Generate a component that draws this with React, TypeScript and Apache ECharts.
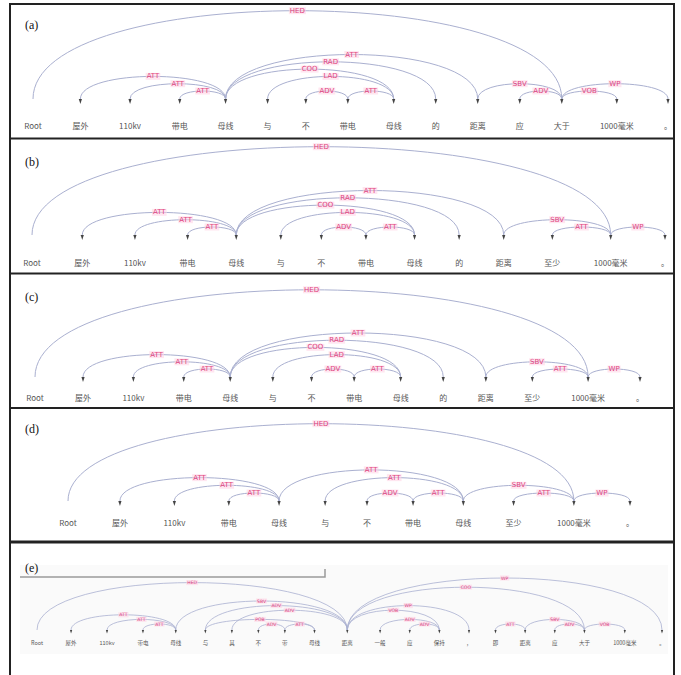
import React, { useEffect, useRef } from "react";
import * as echarts from "echarts";

// ---------- data ----------
const tokensA = ["Root", "屋外", "110kv", "带电", "母线", "与", "不", "带电", "母线", "的", "距离", "应", "大于", "1000毫米", "。"];
// [head, dependent, relation, level]
const arcsA: [number, number, string, number][] = [
  [0, 12, "HED", 12], [4, 1, "ATT", 3], [4, 2, "ATT", 2], [4, 3, "ATT", 1],
  [10, 4, "ATT", 6], [4, 9, "RAD", 5], [4, 8, "COO", 4], [8, 5, "LAD", 3],
  [7, 6, "ADV", 1], [8, 7, "ATT", 1], [12, 10, "SBV", 2], [12, 11, "ADV", 1],
  [12, 13, "VOB", 1], [12, 14, "WP", 2],
];

const tokensB = ["Root", "屋外", "110kv", "带电", "母线", "与", "不", "带电", "母线", "的", "距离", "至少", "1000毫米", "。"];
const arcsB: [number, number, string, number][] = [
  [0, 12, "HED", 12], [4, 1, "ATT", 3], [4, 2, "ATT", 2], [4, 3, "ATT", 1],
  [10, 4, "ATT", 6], [4, 9, "RAD", 5], [4, 8, "COO", 4], [8, 5, "LAD", 3],
  [7, 6, "ADV", 1], [8, 7, "ATT", 1], [12, 10, "SBV", 2], [12, 11, "ATT", 1],
  [12, 13, "WP", 1],
];

const tokensC = ["Root", "屋外", "110kv", "带电", "母线", "与", "不", "带电", "母线", "的", "距离", "至少", "1000毫米", "。"];
const arcsC: [number, number, string, number][] = [
  [0, 12, "HED", 12], [4, 1, "ATT", 3], [4, 2, "ATT", 2], [4, 3, "ATT", 1],
  [10, 4, "ATT", 6], [4, 9, "RAD", 5], [4, 8, "COO", 4], [8, 5, "LAD", 3],
  [7, 6, "ADV", 1], [8, 7, "ATT", 1], [12, 10, "SBV", 2], [12, 11, "ATT", 1],
  [12, 13, "WP", 1],
];

const tokensD = ["Root", "屋外", "110kv", "带电", "母线", "与", "不", "带电", "母线", "至少", "1000毫米", "。"];
const arcsD: [number, number, string, number][] = [
  [0, 10, "HED", 10], [4, 1, "ATT", 3], [4, 2, "ATT", 2], [4, 3, "ATT", 1],
  [8, 4, "ATT", 4], [8, 5, "ATT", 3], [7, 6, "ADV", 1], [8, 7, "ATT", 1],
  [10, 8, "SBV", 2], [10, 9, "ATT", 1], [10, 11, "WP", 1],
];

const tokensE = ["Root", "屋外", "110kv", "带电", "母线", "与", "其", "不", "带", "母线", "距离", "一般", "应", "保持", "，", "即", "距离", "应", "大于", "1000毫米", "。"];
const arcsE: [number, number, string, number][] = [
  [0, 10, "HED", 10], [4, 1, "ATT", 3], [4, 2, "ATT", 2], [4, 3, "ATT", 1],
  [10, 4, "SBV", 6], [10, 5, "ADV", 5], [10, 6, "ADV", 4], [5, 9, "POB", 2],
  [8, 7, "ADV", 1], [9, 8, "ATT", 1], [10, 14, "WP", 5], [10, 13, "VOB", 4],
  [13, 11, "ADV", 2], [13, 12, "ADV", 1], [16, 15, "ATT", 1], [18, 16, "SBV", 2],
  [18, 17, "ADV", 1], [18, 19, "VOB", 1], [10, 18, "COO", 9], [10, 20, "WP", 11],
];

const panelLetters = ["(a)", "(b)", "(c)", "(d)", "(e)"];

// ---------- layout ----------
const PANELS = [
  { tokens: tokensA, arcs: arcsA, left: 33, right: 668, top: 6, baseline: 99, textDy: 26, base: 8, unit: 7.3, gap: 4, font: 8, relFont: 7, arrow: 1 },
  { tokens: tokensB, arcs: arcsB, left: 32, right: 665, top: 141, baseline: 235, textDy: 27, base: 8, unit: 7.3, gap: 4, font: 8, relFont: 7, arrow: 1 },
  { tokens: tokensC, arcs: arcsC, left: 35, right: 640, top: 276, baseline: 377, textDy: 20, base: 8, unit: 7.2, gap: 4, font: 8, relFont: 7, arrow: 1 },
  { tokens: tokensD, arcs: arcsD, left: 68, right: 630, top: 411, baseline: 501, textDy: 21, base: 8, unit: 7.7, gap: 4, font: 8, relFont: 7, arrow: 1 },
  { tokens: tokensE, arcs: arcsE, left: 37, right: 662, top: 560, baseline: 630, textDy: 13, base: 6, unit: 4.6, gap: 3.2, font: 5.5, relFont: 4.6, arrow: 0.7 },
];
const letterY = [25, 162, 297, 429, 568];

const ARC_COLOR = "#aab0d0";
const REL_COLOR = "#e0457f";
const TOKEN_COLOR = "#555";

function charW(ch: string) {
  return /[\u2E80-\u9FFF\u3000-\u303F\uFF00-\uFFEF]/.test(ch) ? 1 : 0.6;
}
function textW(s: string) {
  let w = 0;
  for (const c of s) w += charW(c);
  return w;
}
function layoutPositions(tokens: string[], gap: number) {
  const pos = [0];
  for (let i = 1; i < tokens.length; i++) {
    pos.push(pos[i - 1] + gap + (textW(tokens[i - 1]) + textW(tokens[i])) / 2);
  }
  return pos;
}

function buildOption() {
  const grid: any[] = [];
  const xAxis: any[] = [];
  const yAxis: any[] = [];
  const series: any[] = [];

  PANELS.forEach((p, i) => {
    const pos = layoutPositions(p.tokens, p.gap);
    const h = p.baseline - p.top;
    const y0 = 1 - p.base / p.unit;
    grid.push({ left: p.left, top: p.top, width: p.right - p.left, height: h });
    xAxis.push({ type: "value", gridIndex: i, min: 0, max: pos[pos.length - 1], show: false });
    yAxis.push({ type: "value", gridIndex: i, min: y0, max: y0 + h / p.unit, show: false });

    const arcs = p.arcs;
    series.push({
      type: "custom",
      name: "arcs" + i,
      xAxisIndex: i,
      yAxisIndex: i,
      z: 3,
      encode: { x: [0, 1], y: 2 },
      data: arcs.map((a) => [pos[a[0]], pos[a[1]], a[3]]),
      renderItem: (params: any, api: any) => {
        const xh = api.value(0);
        const xd = api.value(1);
        const lv = api.value(2);
        const ph = api.coord([xh, y0]);
        const pd = api.coord([xd, y0]);
        const pt = api.coord([xh, lv]);
        const ht = ph[1] - pt[1];
        const cy = ph[1] - ht / 0.75;
        const xm = (ph[0] + pd[0]) / 2;
        const rel = arcs[params.dataIndex][2];
        const s = p.arrow;
        return {
          type: "group",
          children: [
            {
              type: "bezierCurve",
              shape: { x1: ph[0], y1: ph[1], x2: pd[0], y2: pd[1], cpx1: ph[0], cpy1: cy, cpx2: pd[0], cpy2: cy },
              style: { stroke: ARC_COLOR, fill: null, lineWidth: s < 1 ? 0.8 : 1 },
            },
            {
              type: "polygon",
              shape: { points: [[pd[0] - 1.6 * s, pd[1]], [pd[0] + 1.6 * s, pd[1]], [pd[0], pd[1] + 5 * s]] },
              style: { fill: "#444" },
            },
            {
              type: "text",
              x: xm,
              y: pt[1],
              style: {
                text: rel,
                fill: REL_COLOR,
                fontSize: p.relFont,
                fontFamily: "DejaVu Sans",
                align: "center",
                verticalAlign: "middle",
                backgroundColor: "rgba(255,210,228,0.55)",
                padding: [0, 1],
              },
            },
          ],
        };
      },
    });

    const toks = p.tokens;
    series.push({
      type: "custom",
      name: "tokens" + i,
      xAxisIndex: i,
      yAxisIndex: i,
      z: 4,
      encode: { x: 0, y: 1 },
      data: pos.map((x) => [x, y0]),
      renderItem: (params: any, api: any) => {
        const c = api.coord([api.value(0), api.value(1)]);
        return {
          type: "text",
          x: c[0],
          y: c[1] + p.textDy,
          style: {
            text: toks[params.dataIndex],
            fill: TOKEN_COLOR,
            fontSize: p.font,
            fontFamily: "Noto Sans CJK SC",
            align: "center",
            verticalAlign: "middle",
          },
        };
      },
    });
  });

  const graphic: any[] = [
    // faint background of panel (e)
    { type: "rect", z: 0, shape: { x: 20, y: 565, width: 648, height: 89 }, style: { fill: "#fafafa" } },
    // bracket line in (e)
    { type: "polyline", z: 5, shape: { points: [[20, 577], [325, 577], [325, 569]] }, style: { stroke: "#9a9a9a", lineWidth: 1.5, fill: null } },
    // borders
    { type: "line", z: 10, shape: { x1: 10, y1: 4, x2: 674, y2: 4 }, style: { stroke: "#222", lineWidth: 2 } },
    { type: "line", z: 10, shape: { x1: 10, y1: 138.5, x2: 674, y2: 138.5 }, style: { stroke: "#222", lineWidth: 2 } },
    { type: "line", z: 10, shape: { x1: 10, y1: 273.5, x2: 674, y2: 273.5 }, style: { stroke: "#222", lineWidth: 2 } },
    { type: "line", z: 10, shape: { x1: 10, y1: 408, x2: 674, y2: 408 }, style: { stroke: "#222", lineWidth: 2 } },
    { type: "line", z: 10, shape: { x1: 10, y1: 542, x2: 674, y2: 542 }, style: { stroke: "#222", lineWidth: 3 } },
    { type: "line", z: 10, shape: { x1: 10, y1: 3, x2: 10, y2: 680 }, style: { stroke: "#222", lineWidth: 2 } },
    { type: "line", z: 10, shape: { x1: 674, y1: 3, x2: 674, y2: 680 }, style: { stroke: "#222", lineWidth: 2 } },
  ];
  panelLetters.forEach((t, i) => {
    graphic.push({
      type: "text",
      z: 10,
      x: 25,
      y: letterY[i],
      style: { text: t, fill: "#111", fontSize: 12, fontFamily: "Liberation Serif", verticalAlign: "middle", align: "left" },
    });
  });

  return { animation: false, backgroundColor: "#ffffff", grid, xAxis, yAxis, series, graphic };
}

export default function App() {
  const ref = useRef<HTMLDivElement>(null);
  useEffect(() => {
    if (!ref.current) return;
    const chart = echarts.init(ref.current, undefined, { renderer: "svg" });
    chart.setOption(buildOption() as any);
    return () => chart.dispose();
  }, []);
  return (
    <div
      ref={ref}
      style={{ position: "fixed", left: 0, top: 0, width: 681, height: 675, background: "#fff" }}
    />
  );
}
